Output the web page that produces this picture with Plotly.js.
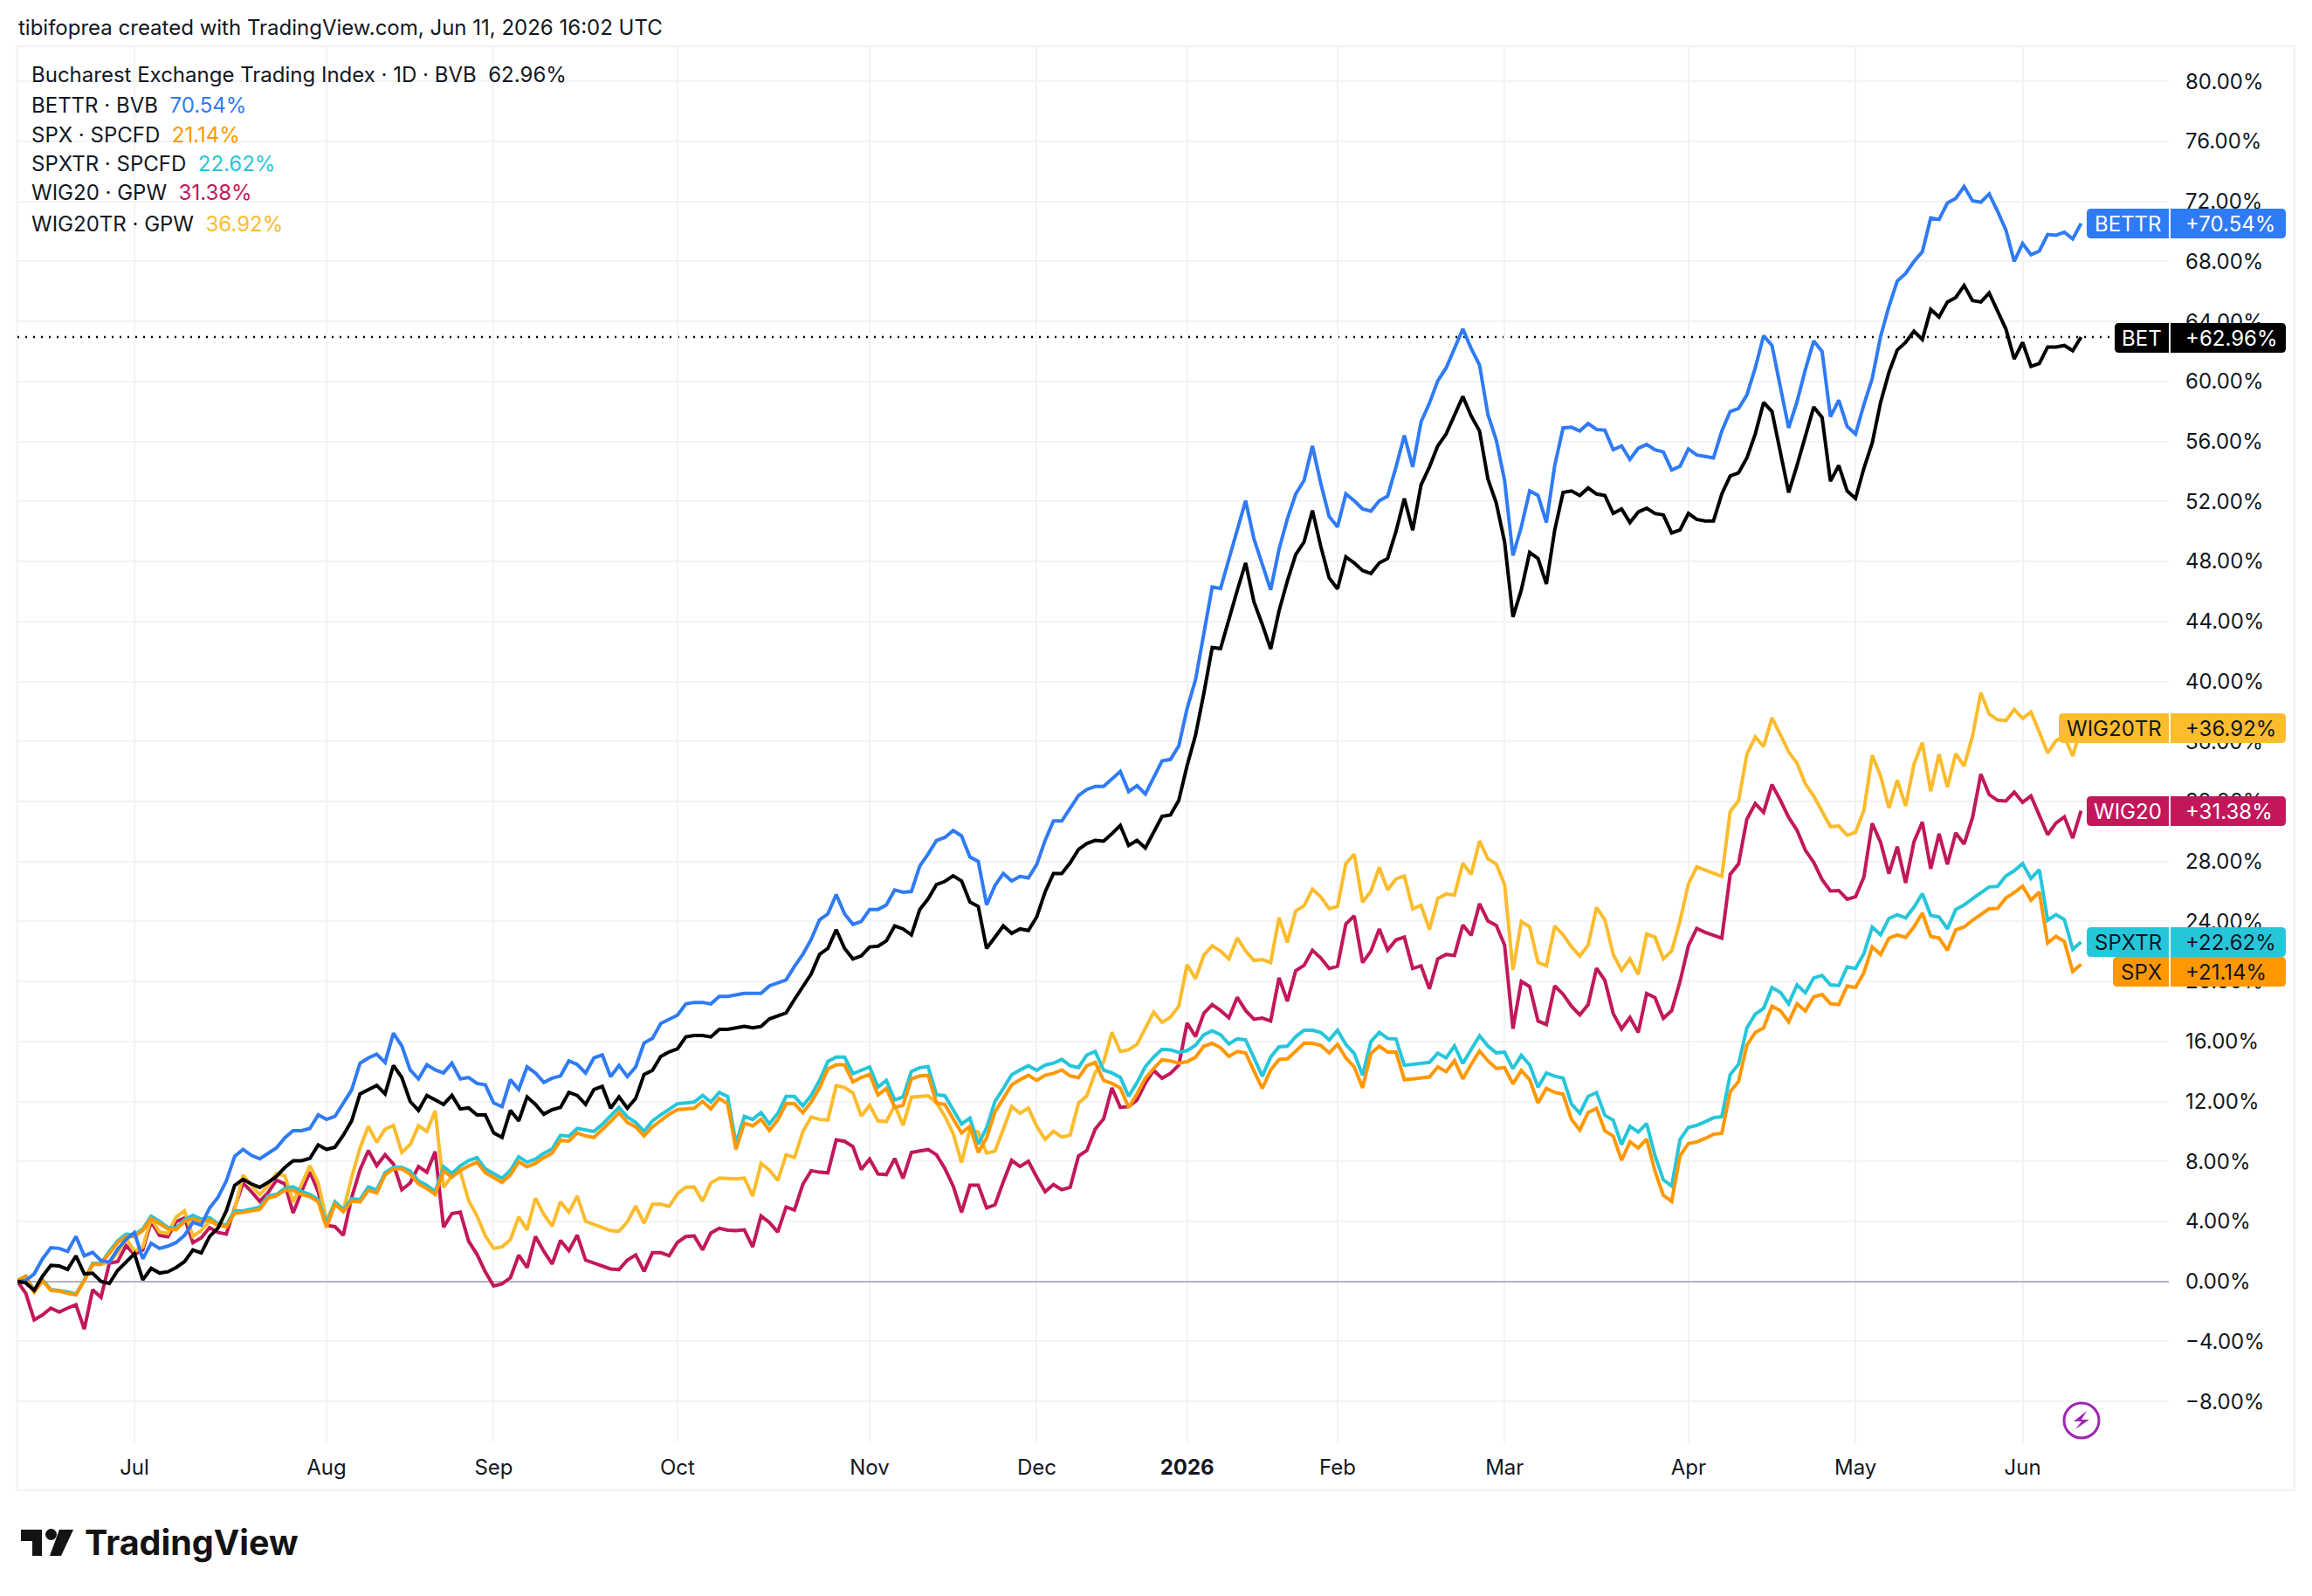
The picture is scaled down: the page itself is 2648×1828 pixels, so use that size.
<!DOCTYPE html>
<html>
<head>
<meta charset="utf-8">
<script src="https://cdn.plot.ly/plotly-3.0.1.min.js"></script>
<style>
  html, body { margin: 0; padding: 0; background: #fff; }
  #chart { width: 2648px; height: 1828px; }
</style>
</head>
<body>
<div id="chart"></div>
<script>
// percent change per trading day (248 bars, Jun 11 2025 - Jun 10 2026)
let bet = [
  0,-0.1,-0.6,0.35,1.07,1.03,0.8,1.7,0.5,0.55,
  0,-0.14,0.74,1.28,1.84,0.1,0.87,0.56,0.64,0.93,
  1.32,2.1,1.9,3.0,3.55,4.7,6.4,6.8,6.5,6.27,
  6.6,7.0,7.6,8.05,8.05,8.2,9.1,8.8,8.95,9.75,
  10.7,12.5,12.8,13.07,12.5,14.4,13.6,12.0,11.4,12.4,
  12.1,11.8,12.4,11.5,11.57,11.1,11.1,9.9,9.6,11.4,
  10.7,12.3,11.8,11.15,11.45,11.6,12.6,12.4,11.8,12.8,
  13.0,11.55,12.3,11.55,12.2,13.8,14.07,15.0,15.3,15.5,
  16.3,16.4,16.4,16.3,16.8,16.8,16.9,17.0,16.9,17.0,
  17.5,17.7,17.9,18.8,19.6,20.5,21.8,22.2,23.45,22.2,
  21.5,21.7,22.3,22.35,22.7,23.7,23.5,23.1,24.8,25.5,
  26.46,26.67,27.04,26.7,25.3,25.0,22.2,22.95,23.7,23.2,
  23.5,23.4,24.3,25.96,27.2,27.2,27.9,28.8,29.2,29.4,
  29.35,29.85,30.4,29.06,29.4,28.9,29.95,31.0,31.1,32.07,
  34.4,36.4,39.2,42.26,42.2,44.2,46.07,47.9,45.3,43.8,
  42.16,44.7,46.7,48.46,49.3,51.4,49.0,46.9,46.17,48.3,
  47.9,47.4,47.2,47.9,48.2,50.0,52.2,50.08,53.1,54.3,
  55.7,56.5,57.8,59.0,57.7,56.7,53.5,51.9,49.3,44.3,
  46.1,48.6,48.2,46.5,50.1,52.6,52.7,52.4,52.9,52.5,
  52.4,51.2,51.5,50.6,51.3,51.55,51.2,51.1,49.9,50.1,
  51.2,50.8,50.7,50.7,52.5,53.7,53.9,54.9,56.5,58.6,
  58.0,55.35,52.6,54.4,56.3,58.3,57.6,53.35,54.4,52.7,
  52.2,54.2,55.9,58.6,60.6,62.1,62.6,63.35,62.8,64.8,
  64.3,65.3,65.6,66.4,65.4,65.3,65.9,64.7,63.5,61.5,
  62.6,61.0,61.2,62.3,62.3,62.4,62.05,62.96
];
let bettr = [
  0,0.06,0.5,1.5,2.25,2.2,2.0,3.0,1.7,1.94,
  1.38,1.28,2.15,2.8,3.26,1.5,2.54,2.2,2.35,2.6,
  3.07,3.94,3.75,4.9,5.6,6.7,8.34,8.8,8.4,8.17,
  8.54,8.9,9.57,10.05,10.05,10.2,11.1,10.8,11.0,11.9,
  12.77,14.55,14.9,15.15,14.6,16.55,15.7,14.1,13.5,14.45,
  14.1,13.9,14.55,13.5,13.6,13.2,13.1,11.9,11.65,13.45,
  12.8,14.3,13.9,13.26,13.55,13.7,14.7,14.46,13.9,14.9,
  15.1,13.65,14.4,13.65,14.3,15.9,16.2,17.2,17.5,17.75,
  18.5,18.6,18.6,18.5,19.0,19.0,19.1,19.2,19.2,19.2,
  19.7,19.9,20.1,21.0,21.8,22.8,24.1,24.5,25.8,24.5,
  23.8,24.0,24.8,24.8,25.1,26.1,25.95,26.0,27.7,28.5,
  29.4,29.6,30.06,29.7,28.3,28.0,25.1,26.4,27.2,26.7,
  27.0,26.9,27.8,29.4,30.7,30.7,31.5,32.4,32.8,33.0,
  33.0,33.5,34.0,32.66,33.05,32.5,33.6,34.7,34.8,35.7,
  38.2,40.1,43.2,46.3,46.2,48.1,50.1,52.05,49.5,47.8,
  46.1,48.8,50.85,52.5,53.4,55.7,53.2,51.0,50.3,52.5,
  52.05,51.5,51.35,52.05,52.35,54.3,56.4,54.3,57.3,58.55,
  60.05,60.9,62.15,63.5,62.2,61.1,57.8,56.1,53.4,48.4,
  50.3,52.7,52.4,50.6,54.4,56.9,56.95,56.7,57.2,56.8,
  56.75,55.45,55.7,54.8,55.55,55.8,55.45,55.3,54.1,54.35,
  55.5,55.1,55.0,54.9,56.7,58.0,58.2,59.1,60.9,63.05,
  62.4,59.7,56.9,58.65,60.8,62.7,62.0,57.65,58.75,57.0,
  56.5,58.45,60.2,63.0,65.0,66.7,67.2,68.0,68.65,70.9,
  70.8,71.9,72.2,73.0,72.05,71.95,72.5,71.35,70.1,68.0,
  69.2,68.45,68.7,69.8,69.75,69.95,69.5,70.54
];
let spx = [
  0.05,0.35,-0.7,0.05,-0.6,-0.65,-0.8,-0.9,0.05,1.13,
  1.16,1.9,2.6,3.0,3.0,3.4,4.2,3.85,3.5,3.45,
  4.0,4.2,4.0,4.1,3.75,3.65,4.55,4.6,4.7,4.8,
  5.55,5.7,6.07,6.07,5.8,5.65,5.3,3.6,5.15,4.65,
  5.35,5.3,6.07,5.9,7.1,7.5,7.5,7.15,6.5,6.2,
  5.8,7.37,6.95,7.4,7.7,7.95,7.25,6.9,6.6,7.1,
  7.97,7.65,7.87,8.25,8.55,9.4,9.35,9.9,9.7,9.6,
  10.1,10.66,11.25,10.6,10.3,9.7,10.3,10.7,11.15,11.45,
  11.5,11.55,12.0,11.5,12.2,11.85,8.8,10.55,10.37,10.8,
  10.07,10.76,11.85,11.85,11.25,11.95,12.9,14.17,14.44,14.44,
  13.3,13.6,13.8,12.43,12.87,11.6,11.75,13.5,13.7,13.74,
  11.9,11.8,10.83,9.9,10.34,8.6,9.57,11.3,12.2,13.1,
  13.45,13.74,13.4,13.74,13.87,14.1,13.7,13.58,14.38,14.6,
  13.4,13.2,12.9,11.6,12.5,13.54,14.2,14.77,14.7,14.55,
  14.65,14.94,15.68,15.87,15.58,15.0,15.33,15.23,14.03,12.86,
  14.1,14.8,14.84,15.39,15.87,15.87,15.74,15.23,15.8,14.9,
  14.3,12.9,15.2,15.68,15.29,15.29,13.45,13.5,13.56,13.63,
  14.3,13.98,14.71,13.5,14.48,15.36,14.71,14.2,14.25,13.17,
  14.07,13.45,11.9,12.87,12.6,12.48,10.8,10.1,11.26,11.54,
  10.04,9.69,8.08,9.3,8.89,9.49,7.35,5.74,5.34,8.38,
  9.19,9.3,9.53,9.81,9.88,12.64,13.33,15.75,16.6,16.9,
  18.35,18.05,17.31,18.51,18.03,18.97,19.13,18.51,18.46,19.7,
  19.59,20.58,22.3,21.8,22.88,23.1,22.93,23.64,24.56,23.0,
  22.9,22.08,23.44,23.63,24.08,24.5,24.85,24.87,25.57,25.92,
  26.35,25.42,25.96,22.56,23.0,22.66,20.66,21.14
];
let spxtr = [
  0.05,0.35,-0.6,0.1,-0.55,-0.6,-0.7,-0.85,0.1,1.2,
  1.2,2.0,2.7,3.15,3.1,3.5,4.35,4.0,3.6,3.55,
  4.1,4.4,4.15,4.25,3.85,3.75,4.7,4.7,4.85,4.95,
  5.7,5.8,6.2,6.3,6.0,5.8,5.45,3.85,5.3,4.8,
  5.5,5.45,6.3,6.1,7.25,7.6,7.6,7.35,6.7,6.4,
  6.0,7.65,7.2,7.7,8.05,8.25,7.5,7.16,6.87,7.4,
  8.3,7.95,8.15,8.54,8.83,9.74,9.68,10.2,10.1,10.0,
  10.47,11.0,11.6,10.96,10.6,10.0,10.7,11.1,11.5,11.85,
  11.9,11.96,12.4,11.96,12.6,12.33,9.2,11.0,10.8,11.25,
  10.5,11.2,12.33,12.33,11.7,12.4,13.4,14.66,14.95,14.95,
  13.85,14.1,14.3,12.96,13.4,12.1,12.3,14.0,14.25,14.32,
  12.44,12.38,11.4,10.5,10.88,9.14,10.24,12.0,12.86,13.78,
  14.09,14.38,14.07,14.42,14.55,14.8,14.38,14.26,15.1,15.33,
  14.09,13.9,13.6,12.34,13.25,14.32,14.96,15.48,15.44,15.27,
  15.39,15.74,16.45,16.7,16.45,15.83,16.18,16.1,14.9,13.68,
  14.96,15.64,15.68,16.32,16.74,16.74,16.6,16.1,16.74,15.8,
  15.2,13.74,16.0,16.6,16.2,16.16,14.41,14.48,14.53,14.6,
  15.22,14.9,15.7,14.53,15.47,16.37,15.7,15.24,15.29,14.18,
  15.08,14.43,12.94,13.9,13.68,13.56,11.83,11.21,12.34,12.59,
  11.07,10.75,9.12,10.34,9.95,10.52,8.38,6.77,6.36,9.46,
  10.27,10.41,10.64,10.91,10.98,13.79,14.48,16.9,17.82,18.21,
  19.59,19.27,18.51,19.77,19.24,20.23,20.4,19.77,19.73,20.97,
  20.86,21.85,23.62,23.1,24.2,24.45,24.24,24.95,25.86,24.4,
  24.3,23.5,24.8,25.09,25.51,25.92,26.3,26.33,27.03,27.38,
  27.86,26.87,27.45,24.08,24.45,24.12,22.14,22.62
];
let wig20 = [
  0,-0.8,-2.56,-2.23,-1.78,-2.04,-1.78,-1.55,-3.18,-0.56,
  -1.07,1.22,1.32,2.39,1.8,2.1,3.98,3.07,2.97,3.98,
  4.23,2.58,2.91,3.59,3.26,3.16,4.91,6.56,5.98,5.34,
  5.92,6.75,6.5,4.56,5.98,7.3,5.98,3.74,3.65,3.07,
  5.59,7.43,8.73,7.72,8.44,7.82,6.11,6.56,7.66,7.28,
  8.65,3.61,4.52,4.62,2.68,1.81,0.63,-0.31,-0.16,0.24,
  1.75,0.92,2.99,2.01,1.16,2.73,2.05,3.09,1.42,1.22,
  1.08,0.83,0.79,1.42,1.77,0.67,1.91,1.91,1.71,2.6,
  2.99,3.03,2.1,3.23,3.54,3.42,3.38,3.44,2.3,4.37,
  3.93,3.29,4.96,4.76,6.47,7.38,7.28,7.24,9.44,9.34,
  8.99,7.46,8.16,7.16,7.12,8.2,6.87,8.6,8.7,8.79,
  8.44,7.53,6.36,4.6,6.42,6.42,4.9,5.1,6.65,8.07,
  7.66,8.01,6.95,5.98,6.46,6.11,6.27,8.36,8.73,10.15,
  10.83,12.9,11.6,11.66,12.09,13.21,14.07,13.54,13.87,14.42,
  17.23,16.32,17.87,18.45,18.06,17.58,18.94,18.06,17.48,17.56,
  17.37,20.24,18.68,20.72,21.07,22.08,21.56,20.86,21.01,23.83,
  24.37,21.25,22.02,23.5,22.08,22.77,22.95,20.86,21.04,19.5,
  21.5,21.8,21.73,23.76,23.07,25.18,24.03,23.73,22.42,16.85,
  20.0,19.66,17.36,17.13,19.7,19.15,18.35,17.77,18.46,20.88,
  20.07,17.86,16.83,17.59,16.6,19.2,18.92,17.54,18.05,20.0,
  22.38,23.53,23.27,23.07,22.88,27.14,27.83,30.82,31.86,31.28,
  33.12,32.09,30.94,30.08,28.75,27.94,26.79,26.03,26.06,25.48,
  25.64,26.95,30.54,29.28,27.18,28.98,26.56,29.32,30.62,27.51,
  29.84,27.8,29.9,29.16,30.91,33.82,32.46,32.07,32.03,32.62,
  31.94,32.36,31.1,29.78,30.56,30.97,29.55,31.38
];
let wig20tr = [
  0.05,0.05,-0.7,0.05,-0.56,-0.6,-0.75,-0.88,0.05,1.13,
  1.13,1.3,1.9,2.87,2.0,2.29,4.2,3.3,3.2,4.3,
  4.7,3.0,3.4,4.0,3.75,3.65,4.8,7.08,6.4,5.78,
  6.4,7.2,7.04,5.3,6.46,7.72,6.56,4.04,5.3,4.7,
  6.95,8.89,10.34,9.27,10.15,10.4,8.6,9.12,10.38,10.0,
  11.37,6.27,7.04,7.33,5.39,4.37,3.03,2.2,2.3,2.79,
  4.3,3.44,5.55,4.47,3.68,5.31,4.62,5.69,4.01,3.78,
  3.58,3.38,3.34,3.97,5.02,3.88,5.15,5.15,5.0,5.84,
  6.28,6.3,5.35,6.57,6.89,6.87,6.83,6.89,5.69,7.87,
  7.42,6.73,8.44,8.26,9.97,10.96,10.8,10.76,13.06,12.93,
  12.57,11.02,11.74,10.7,10.66,11.74,10.41,12.28,12.33,12.38,
  11.9,11.02,9.86,7.92,10.15,9.95,8.56,8.69,10.15,11.66,
  11.21,11.56,10.34,9.47,10.01,9.62,9.76,11.89,12.38,13.93,
  14.61,16.61,15.33,15.44,15.81,16.94,17.95,17.27,17.62,18.35,
  21.11,20.18,21.75,22.37,22.02,21.5,22.9,22.04,21.4,21.46,
  21.25,24.25,22.6,24.7,25.05,26.15,25.63,24.85,25.0,27.86,
  28.48,25.28,26.02,27.6,26.1,26.84,27.03,24.84,25.07,23.46,
  25.53,25.83,25.76,27.88,27.14,29.37,28.17,27.83,26.45,20.76,
  23.99,23.64,21.27,21.04,23.69,23.11,22.31,21.69,22.42,24.93,
  24.1,21.8,20.74,21.5,20.46,23.16,22.95,21.5,22.03,24.03,
  26.5,27.64,27.41,27.21,27.0,31.33,32.04,35.15,36.3,35.66,
  37.57,36.46,35.31,34.55,33.17,32.36,31.33,30.32,30.36,29.74,
  29.95,31.4,35.08,33.7,31.56,33.42,31.7,34.5,35.91,32.69,
  35.14,32.95,35.18,34.36,36.34,39.25,37.83,37.45,37.39,38.13,
  37.54,37.97,36.63,35.23,36.05,36.34,35.02,36.92
];

// axis labels, month ticks sit on the first trading day of each month (bar number)
let monthBars = [14, 37, 57, 79, 102, 122, 140, 158, 178, 200, 220, 240];
let monthLabels = ["Jul", "Aug", "Sep", "Oct", "Nov", "Dec", "<b>2026</b>", "Feb", "Mar", "Apr", "May", "Jun"];
let pctTicks = [-8, -4, 0, 4, 8, 12, 16, 20, 24, 28, 32, 36, 40, 44, 48, 52, 56, 60, 64, 68, 72, 76, 80];
let pctLabels = pctTicks.map(function (v) {
  return (v < 0 ? "\u2212" + Math.abs(v) : v) + ".00%";
});

let bars = bet.map(function (v, i) { return i; });

let FONT = "Inter, 'Noto Sans', sans-serif";
let TEXT = "#131722";
let GRID = "#f2f3f5";
let C_BET = "#000000", C_BETTR = "#2f7bf5", C_SPX = "#ff9800", C_SPXTR = "#26c6da", C_WIG = "#c2185b", C_WIGTR = "#fbbc2d";

// plot area in page pixels
let L = 20, R = 2484, T = 54, B = 1652;
function px(x) { return (x - L) / (R - L); }
function py(y) { return (B - y) / (B - T); }

function line(name, y, color) {
  return { x: bars, y: y, name: name, type: "scatter", mode: "lines", hoverinfo: "skip",
    line: { color: color, width: 4 } };
}

// draw order as in the reference: main series stays on top
let traces = [
  line("WIG20", wig20, C_WIG),
  line("WIG20TR", wig20tr, C_WIGTR),
  line("SPXTR", spxtr, C_SPXTR),
  line("SPX", spx, C_SPX),
  line("BETTR", bettr, C_BETTR),
  line("BET", bet, C_BET)
];

function pathOf(points) {
  return points.map(function (p, i) {
    return (i ? "L" : "M") + px(p[0]) + "," + py(p[1]);
  }).join(" ") + " Z";
}

// tag box, corners rounded on one side only
function tagBox(x0, x1, y0, y1, color, roundLeft) {
  let r = 5, d;
  if (roundLeft) {
    d = "M" + px(x1) + "," + py(y0) + " L" + px(x0 + r) + "," + py(y0) +
      " Q" + px(x0) + "," + py(y0) + " " + px(x0) + "," + py(y0 + r) +
      " L" + px(x0) + "," + py(y1 - r) +
      " Q" + px(x0) + "," + py(y1) + " " + px(x0 + r) + "," + py(y1) +
      " L" + px(x1) + "," + py(y1) + " Z";
  } else {
    d = "M" + px(x0) + "," + py(y0) + " L" + px(x1 - r) + "," + py(y0) +
      " Q" + px(x1) + "," + py(y0) + " " + px(x1) + "," + py(y0 + r) +
      " L" + px(x1) + "," + py(y1 - r) +
      " Q" + px(x1) + "," + py(y1) + " " + px(x1 - r) + "," + py(y1) +
      " L" + px(x0) + "," + py(y1) + " Z";
  }
  return { type: "path", xref: "paper", yref: "paper", path: d, fillcolor: color, line: { width: 0 }, layer: "above" };
}

let tags = [
  { name: "BETTR", value: "+70.54%", left: 2390, top: 239, color: C_BETTR, text: "#ffffff" },
  { name: "BET", value: "+62.96%", left: 2422, top: 370, color: C_BET, text: "#ffffff" },
  { name: "WIG20TR", value: "+36.92%", left: 2358, top: 817, color: C_WIGTR, text: TEXT },
  { name: "WIG20", value: "+31.38%", left: 2390, top: 912, color: C_WIG, text: "#ffffff" },
  { name: "SPXTR", value: "+22.62%", left: 2390, top: 1062, color: C_SPXTR, text: TEXT },
  { name: "SPX", value: "+21.14%", left: 2420, top: 1096, color: C_SPX, text: TEXT }
];

let shapes = [
  // outer frame
  { type: "rect", xref: "paper", yref: "paper", x0: px(19.5), x1: px(2628), y0: py(53), y1: py(1707),
    line: { color: GRID, width: 2.5 }, layer: "below" },
  // last value line of the main series
  { type: "line", xref: "paper", yref: "y", x0: 0, x1: 1, y0: 62.96, y1: 62.96,
    line: { color: "#000000", width: 2.5, dash: "2px,7px" }, layer: "below" },
  // lightning badge
  { type: "circle", xref: "paper", yref: "paper", x0: px(2364), x1: px(2404), y0: py(1607), y1: py(1647),
    line: { color: "#9c27b0", width: 3 }, fillcolor: "rgba(0,0,0,0)" },
  { type: "path", xref: "paper", yref: "paper", line: { width: 0 }, fillcolor: "#9c27b0",
    path: pathOf([[2390, 1616], [2375, 1628], [2384, 1628], [2377, 1637], [2393, 1626], [2384, 1626]]) },
  // TradingView mark
  { type: "path", xref: "paper", yref: "paper", line: { width: 0 }, fillcolor: "#131313",
    path: pathOf([[24, 1752], [48, 1752], [48, 1782], [37, 1782], [37, 1765], [24, 1765]]) },
  { type: "circle", xref: "paper", yref: "paper", line: { width: 0 }, fillcolor: "#131313",
    x0: px(52), x1: px(65), y0: py(1751), y1: py(1764) },
  { type: "path", xref: "paper", yref: "paper", line: { width: 0 }, fillcolor: "#131313",
    path: pathOf([[68, 1752], [84, 1752], [70, 1782], [57, 1782]]) }
];

function note(text, x, y, anchor, color, size) {
  return { text: text, xref: "paper", yref: "paper", x: px(x), y: py(y), xanchor: anchor, yanchor: "middle",
    showarrow: false, borderpad: 0, font: { family: FONT, size: size || 24, color: color || TEXT } };
}

function legendLine(label, value, color) {
  return label + "\u00a0\u00a0<span style=\"color:" + color + "\">" + value + "</span>";
}

let annotations = [
  note("tibifoprea created with TradingView.com, Jun 11, 2026 16:02 UTC", 20, 32, "left", TEXT, 24),
  note(legendLine("Bucharest Exchange Trading Index \u00b7 1D \u00b7 BVB", "62.96%", TEXT), 35, 85.5, "left"),
  note(legendLine("BETTR \u00b7 BVB", "70.54%", C_BETTR), 35, 120, "left"),
  note(legendLine("SPX \u00b7 SPCFD", "21.14%", C_SPX), 35, 154, "left"),
  note(legendLine("SPXTR \u00b7 SPCFD", "22.62%", C_SPXTR), 35, 187, "left"),
  note(legendLine("WIG20 \u00b7 GPW", "31.38%", C_WIG), 35, 221, "left"),
  note(legendLine("WIG20TR \u00b7 GPW", "36.92%", C_WIGTR), 35, 256, "left"),
  note("<b>TradingView</b>", 95.5, 1767, "left", "#131313", 39.5)
];

for (let tag of tags) {
  shapes.push(tagBox(tag.left, 2484, tag.top, tag.top + 34, tag.color, true));
  shapes.push(tagBox(2486, 2618, tag.top, tag.top + 34, tag.color, false));
  annotations.push(note(tag.name, 2477, tag.top + 17, "right", tag.text));
  annotations.push(note(tag.value, 2502, tag.top + 17, "left", tag.text));
}

let layout = {
  width: 2648,
  height: 1828,
  margin: { l: L, r: 2648 - R, t: T, b: 1828 - B, pad: 0 },
  paper_bgcolor: "#ffffff",
  plot_bgcolor: "#ffffff",
  showlegend: false,
  font: { family: FONT, size: 24, color: TEXT },
  xaxis: {
    range: [0, 257.5],
    tickmode: "array",
    tickvals: monthBars,
    ticktext: monthLabels,
    ticks: "",
    showgrid: true,
    gridcolor: GRID,
    gridwidth: 2,
    showline: false,
    zeroline: false,
    ticklabelstandoff: 12,
    tickfont: { family: FONT, size: 24, color: TEXT },
    fixedrange: true
  },
  yaxis: {
    side: "right",
    range: [-10.73, 82.29],
    tickmode: "array",
    tickvals: pctTicks,
    ticktext: pctLabels,
    ticks: "",
    showgrid: true,
    gridcolor: GRID,
    gridwidth: 2,
    showline: false,
    zeroline: true,
    zerolinecolor: "#b2b5be",
    zerolinewidth: 2,
    ticklabelstandoff: 18,
    tickfont: { family: FONT, size: 24, color: TEXT },
    fixedrange: true
  },
  shapes: shapes,
  annotations: annotations
};

Plotly.newPlot("chart", traces, layout, { displayModeBar: false, staticPlot: true });
</script>
</body>
</html>
